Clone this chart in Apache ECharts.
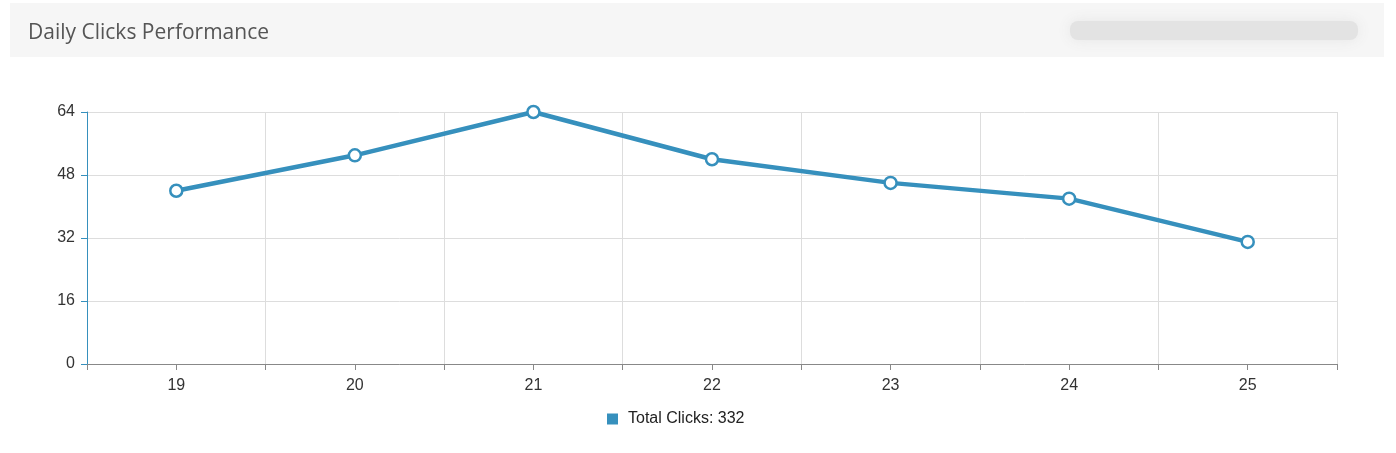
<!DOCTYPE html>
<html>
<head>
<meta charset="utf-8">
<script src="https://cdn.jsdelivr.net/npm/echarts@6/dist/echarts.min.js"></script>
<style>
html,body{margin:0;padding:0;background:#fff;}
#chart{width:1396px;height:453px;}
</style>
</head>
<body>
<div id="chart"></div>
<script>
var categories = ['19', '20', '21', '22', '23', '24', '25'];
var clicks = [44, 53, 64, 52, 46, 42, 31];
var yTicks = [0, 16, 32, 48, 64];
var seriesName = 'Total Clicks';

var total = clicks.reduce(function (a, b) { return a + b; }, 0);
var blue = '#3690bd';

var chart = echarts.init(document.getElementById('chart'));
chart.setOption({
  animation: false,
  backgroundColor: '#fff',
  graphic: [
    { type: 'rect', shape: { x: 10, y: 3, width: 1374, height: 54 }, style: { fill: '#f6f6f6' }, z: -10 },
    { type: 'rect', shape: { x: 1070, y: 21, width: 288, height: 19, r: 8 },
      style: { fill: '#e3e3e3', shadowBlur: 14, shadowColor: '#e6e6e6' }, z: -5 }
  ],
  title: {
    text: 'Daily Clicks Performance',
    left: 23, top: 18,
    textStyle: { fontFamily: 'Open Sans', fontSize: 21, fontWeight: 'normal', color: '#555' }
  },
  legend: {
    bottom: 21, left: 602,
    itemWidth: 11, itemHeight: 11, icon: 'rect', itemGap: 10,
    itemStyle: { color: blue, borderWidth: 0 },
    textStyle: { fontFamily: 'Liberation Sans', fontSize: 16, color: '#222', padding: [0, 0, 0, 5] },
    formatter: function (n) { return n + ': ' + total; },
    data: [seriesName]
  },
  grid: { left: 87, right: 59, top: 112, bottom: 89 },
  xAxis: [
    {
      type: 'category', data: categories, boundaryGap: true,
      axisLine: { lineStyle: { color: '#888' } },
      axisTick: { show: true, length: 6, lineStyle: { color: '#888' } },
      splitLine: { show: true, lineStyle: { color: '#ddd' } },
      axisLabel: { fontFamily: 'Liberation Sans', fontSize: 16, color: '#333', margin: 14 }
    },
    {
      type: 'category', data: categories, boundaryGap: true, position: 'bottom',
      axisLine: { show: false },
      axisTick: { show: true, alignWithLabel: true, length: 6, lineStyle: { color: '#888' } },
      axisLabel: { show: false },
      splitLine: { show: false }
    }
  ],
  yAxis: {
    type: 'value', min: yTicks[0], max: yTicks[yTicks.length - 1], interval: 16,
    axisLine: { show: true, lineStyle: { color: blue } },
    axisTick: { show: true, length: 6, lineStyle: { color: blue } },
    splitLine: { show: true, lineStyle: { color: '#ddd' } },
    axisLabel: { fontFamily: 'Liberation Sans', fontSize: 16, color: '#333', margin: 12, padding: [4, 0, 0, 0] }
  },
  series: [{
    name: seriesName, type: 'line', data: clicks,
    symbol: 'circle', symbolSize: 12,
    lineStyle: { color: blue, width: 4.5 },
    itemStyle: { color: '#fff', borderColor: blue, borderWidth: 2.5 },
    color: blue
  }]
});
</script>
</body>
</html>
